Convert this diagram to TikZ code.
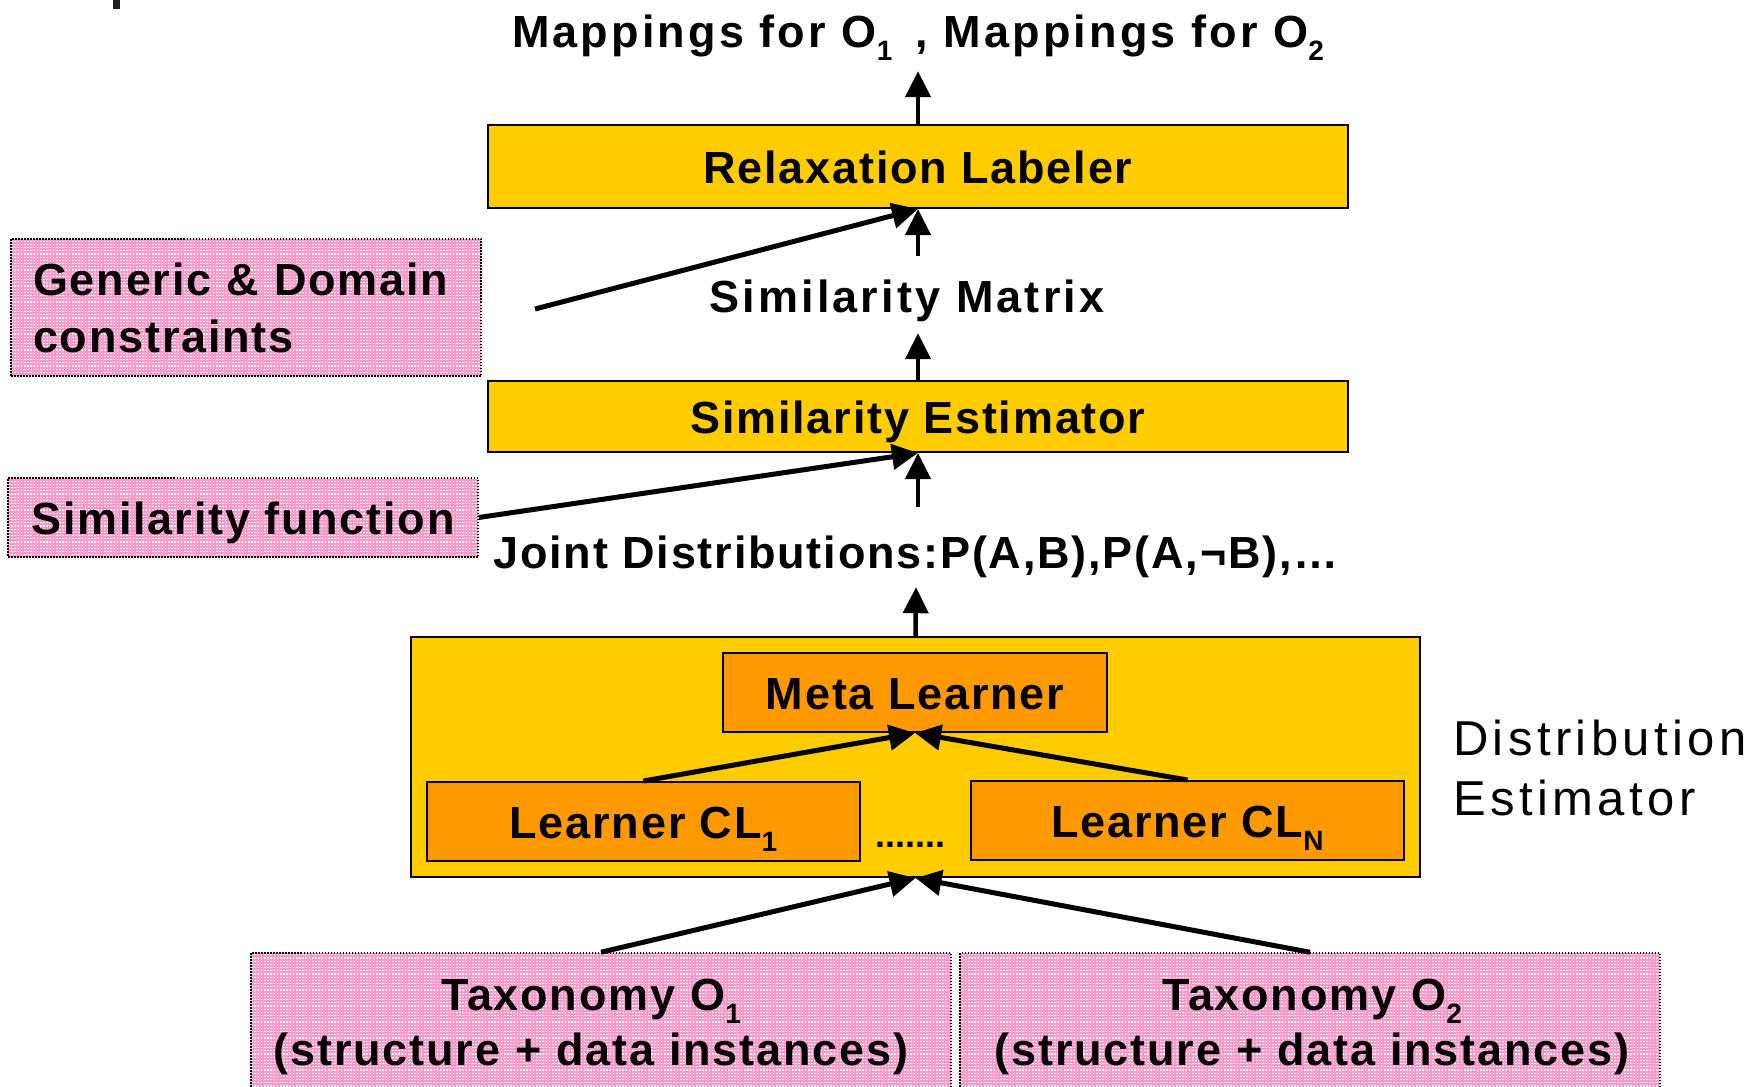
\documentclass[tikz,border=0pt]{standalone}
\usepackage{fontspec}
\setmainfont{Liberation Sans}
\newfontfamily\boxfont{Liberation Sans}[LetterSpace=4]
\newfontfamily\widefont{Liberation Sans}[LetterSpace=7]
\newfontfamily\sidefont{Liberation Sans}[LetterSpace=9]
\usetikzlibrary{arrows.meta,patterns.meta}
\definecolor{boxyellow}{HTML}{FFCC00}
\definecolor{boxorange}{HTML}{FF9900}
\definecolor{notepink}{HTML}{FF99CC}
\newcommand\lowsub[1]{\raisebox{-13pt}{\fontsize{28}{28}\selectfont #1}}
\begin{document}
\begin{tikzpicture}[x=1pt,y=-1pt,
  lbl/.style={font=\boxfont\bfseries\fontsize{45}{54}\selectfont, inner sep=0pt, text height=34pt, text depth=0pt},
  freetext/.style={lbl, text depth=10pt, anchor=base},
  widetext/.style={freetext, font=\widefont\bfseries\fontsize{45}{54}\selectfont},
  para/.style={font=\boxfont\bfseries\fontsize{45}{#1}\selectfont, inner sep=0pt},
  stage/.style={draw=black, line width=2pt, fill=boxyellow},
  learner/.style={draw=black, line width=2pt, fill=boxorange},
  note/.style={draw=black, line width=1.5pt, dash pattern=on 1.5pt off 1.5pt,
    preaction={fill=notepink},
    pattern={Lines[angle=0,distance=3.2pt,line width=1.1pt]}, pattern color=white},
  flow/.style={line width=4.5pt, -{Triangle[length=26pt,width=25pt]}},
  slant/.style={flow, line width=5pt},
]
\useasboundingbox (0,0) rectangle (1760,1086);
\clip (0,0) rectangle (1760,1086);

% small bar in the top-left corner
\fill[black!88] (113,0) rectangle (120,9);

% main pipeline
\node[widetext] (title) at (918,48) {Mappings for O\lowsub{1}\, , Mappings for O\lowsub{2}};
\node[stage, lbl, minimum width=860pt, minimum height=83pt] (relax) at (918,166.5) {Relaxation Labeler};
\node[widetext] (matrix) at (907,312) {Similarity Matrix};
\node[stage, lbl, minimum width=860pt, minimum height=71pt] (est) at (918,416.5) {Similarity Estimator};
\node[freetext] (joint) at (916,568) {Joint Distributions:P(A,B),P(A,¬B),…};

% distribution estimator with its learners
\node[stage, minimum width=1009pt, minimum height=240pt] (dist) at (915.5,757) {};
\node[learner, lbl, minimum width=384pt, minimum height=79pt] (meta) at (915,692.5) {Meta Learner};
\node[learner, lbl, minimum width=433pt, minimum height=79pt] (cl1) at (643.5,821.5) {Learner CL\lowsub{1}};
\node[learner, lbl, minimum width=433pt, minimum height=79pt] (cln) at (1187.5,820.5) {Learner CL\lowsub{N}};
\node[font=\bfseries\fontsize{36}{36}\selectfont, inner sep=0pt, anchor=base] (dots) at (910,847) {.......};
\node[font=\sidefont\fontsize{49}{60}\selectfont, inner sep=0pt, anchor=base west,
      text width=400pt, align=left] (distlbl) at (1453,755) {Distribution\\Estimator};

% inputs
\node[note, minimum width=470pt, minimum height=137pt] (generic) at (246,307.5) {};
\node[para=57, anchor=base west, text width=445pt, align=left] (generictxt) at (33,295)
  {Generic \& Domain\\constraints};
\node[note, lbl, minimum width=470pt, minimum height=79pt] (simfn) at (243,517.5) {Similarity function};
\node[note, minimum width=700pt, minimum height=142pt] (tax1) at (601,1024) {};
\node[para=55, anchor=base, text width=720pt, align=center] (tax1txt) at (591,1010)
  {Taxonomy O\lowsub{1}\\(structure + data instances)};
\node[note, minimum width=700pt, minimum height=142pt] (tax2) at (1310,1024) {};
\node[para=55, anchor=base, text width=720pt, align=center] (tax2txt) at (1312,1010)
  {Taxonomy O\lowsub{2}\\(structure + data instances)};

% connectors
\coordinate (gdfoot) at (535,309);
\draw[flow] (relax.north) -- ([yshift=-13pt]title.south);
\draw[flow] ([xshift=11pt,yshift=22pt]matrix.north) -- (relax.south);
\draw[slant] (gdfoot) -- (relax.south);
\draw[flow] (est.north) -- ([xshift=11pt,yshift=-11pt]matrix.south);
\draw[flow] ([xshift=2pt,yshift=27pt]joint.north) -- (est.south);
\draw[slant] (simfn.east) -- (est.south);
\draw[flow] (dist.north) -- ([yshift=-9pt]joint.south);
\draw[slant] (cl1.north) -- (meta.south);
\draw[slant] (cln.north) -- (meta.south);
\draw[slant] (tax1.north) -- (dist.south);
\draw[slant] (tax2.north) -- (dist.south);
\end{tikzpicture}
\end{document}
